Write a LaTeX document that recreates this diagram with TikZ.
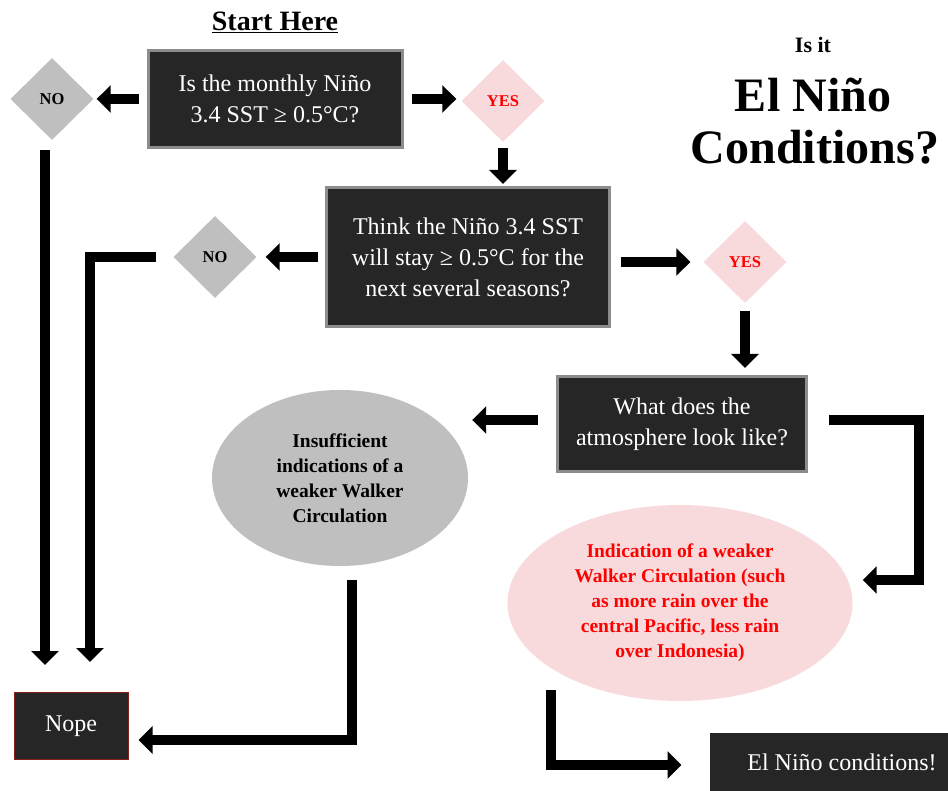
\documentclass[tikz,border=0pt]{standalone}
\usepackage{fontspec}
\setmainfont{Liberation Serif}
\usetikzlibrary{shapes.geometric,arrows.meta}

\definecolor{boxfill}{RGB}{38,38,38}
\definecolor{boxedge}{RGB}{140,140,140}
\definecolor{nogray}{RGB}{191,191,191}
\definecolor{yespink}{RGB}{248,218,220}
\definecolor{nopeedge}{RGB}{140,30,30}

\tikzset{
  question/.style={rectangle, fill=boxfill, draw=boxedge, line width=3pt, text=white, align=center, font=\fontsize{24}{31}\selectfont, inner sep=0pt},
  nodiamond/.style={diamond, fill=nogray, font=\bfseries\fontsize{16.5}{18}\selectfont, inner sep=0pt, minimum width=83pt, minimum height=82pt},
  yesdiamond/.style={nodiamond, fill=yespink, text=red},
  outcome/.style={ellipse, inner sep=0pt, align=center, font=\bfseries\fontsize{19.5}{25}\selectfont},
  flow/.style={line width=10pt, -{Triangle[length=14pt,width=27pt]}}
}

\begin{document}
\begin{tikzpicture}[x=1pt, y=-1pt]
        \useasboundingbox (0,0) rectangle (948,791);

        % Title
        \node[font=\bfseries\fontsize{22}{24}\selectfont] (isit) at (813,45) {Is it};
        \node[font=\bfseries\fontsize{48}{52}\selectfont] (title) at (813,95) {El Niño};
        \node[font=\bfseries\fontsize{48}{52}\selectfont] (title2) at (815,147) {Conditions?};
        \node[font=\bfseries\fontsize{28}{32}\selectfont] (start) at (275,22) {\underline{Start Here}};

        % Questions and answers
        \node[question, minimum width=254pt, minimum height=97pt] (q1) at (275,99) {Is the monthly Niño\\3.4 SST ≥ 0.5°C?};
        \node[nodiamond] (no1) at (52,99) {NO};
        \node[yesdiamond] (yes1) at (503,101) {YES};
        \node[question, minimum width=283pt, minimum height=139pt] (q2) at (468,257) {Think the Niño 3.4 SST\\will stay ≥ 0.5°C for the\\next several seasons?};
        \node[nodiamond] (no2) at (215,257) {NO};
        \node[yesdiamond] (yes2) at (745,262) {YES};
        \node[question, minimum width=249pt, minimum height=95pt] (q3) at (682,424) {What does the\\atmosphere look like?};
        \node[outcome, fill=nogray, minimum width=256pt, minimum height=176pt] (weak) at (340,478) {Insufficient\\indications of a\\weaker Walker\\Circulation};
        \node[outcome, fill=yespink, text=red, minimum width=345pt, minimum height=196pt] (walker) at (680,603) {Indication of a weaker\\Walker Circulation (such\\as more rain over the\\central Pacific, less rain\\over Indonesia)};
        \node[question, line width=1pt, draw=nopeedge, minimum width=114pt, minimum height=67pt] (nope) at (71,726) {Nope};
        \node[question, draw=none, minimum width=264pt, minimum height=58pt] (elnino) at (842,762) {El Niño conditions!};

        % Arrows
        \draw[flow, shorten <=8pt, shorten >=3pt] (q1.west) -- (q1.west -| no1.east);
        \draw[flow, shorten <=8pt, shorten >=5pt] (q1.east) -- (q1.east -| yes1.west);
        \draw[flow, shorten <=6pt, shorten >=2pt] (yes1.south) -- (q2.north -| yes1.south);
        \draw[flow, shorten <=7pt, shorten >=9pt] (q2.west) -- (no2.east);
        \draw[flow, shorten <=10pt, shorten >=13pt] (q2.east |- yes2.west) -- (yes2.west);
        \draw[flow, shorten <=8pt, shorten >=7pt] (yes2.south) -- (q3.north -| yes2.south);
        \draw[flow] ([xshift=-18pt,yshift=4pt]q3.west) -- ([xshift=4pt,yshift=4pt]q3.west -| weak.east);
        \draw[flow] ([xshift=21pt,yshift=4pt]q3.east) -| ([xshift=66pt,yshift=23pt]walker.east) -- ([xshift=10pt,yshift=23pt]walker.east);
        \draw[flow] ([xshift=-7pt,yshift=-10pt]no1.south) -- ([xshift=-26pt,yshift=27pt]nope.north);
        \draw[flow] ([xshift=-17pt]no2.west) -| ([xshift=19pt,yshift=30pt]nope.north);
        \draw[flow] ([xshift=12pt,yshift=-14pt]weak.south) |- ([xshift=10pt,yshift=-14pt]nope.east);
        \draw[flow] ([xshift=-7pt,yshift=-18pt]walker.south west) |- ([xshift=-27pt,yshift=-3pt]elnino.west);
    \end{tikzpicture}
\end{document}
